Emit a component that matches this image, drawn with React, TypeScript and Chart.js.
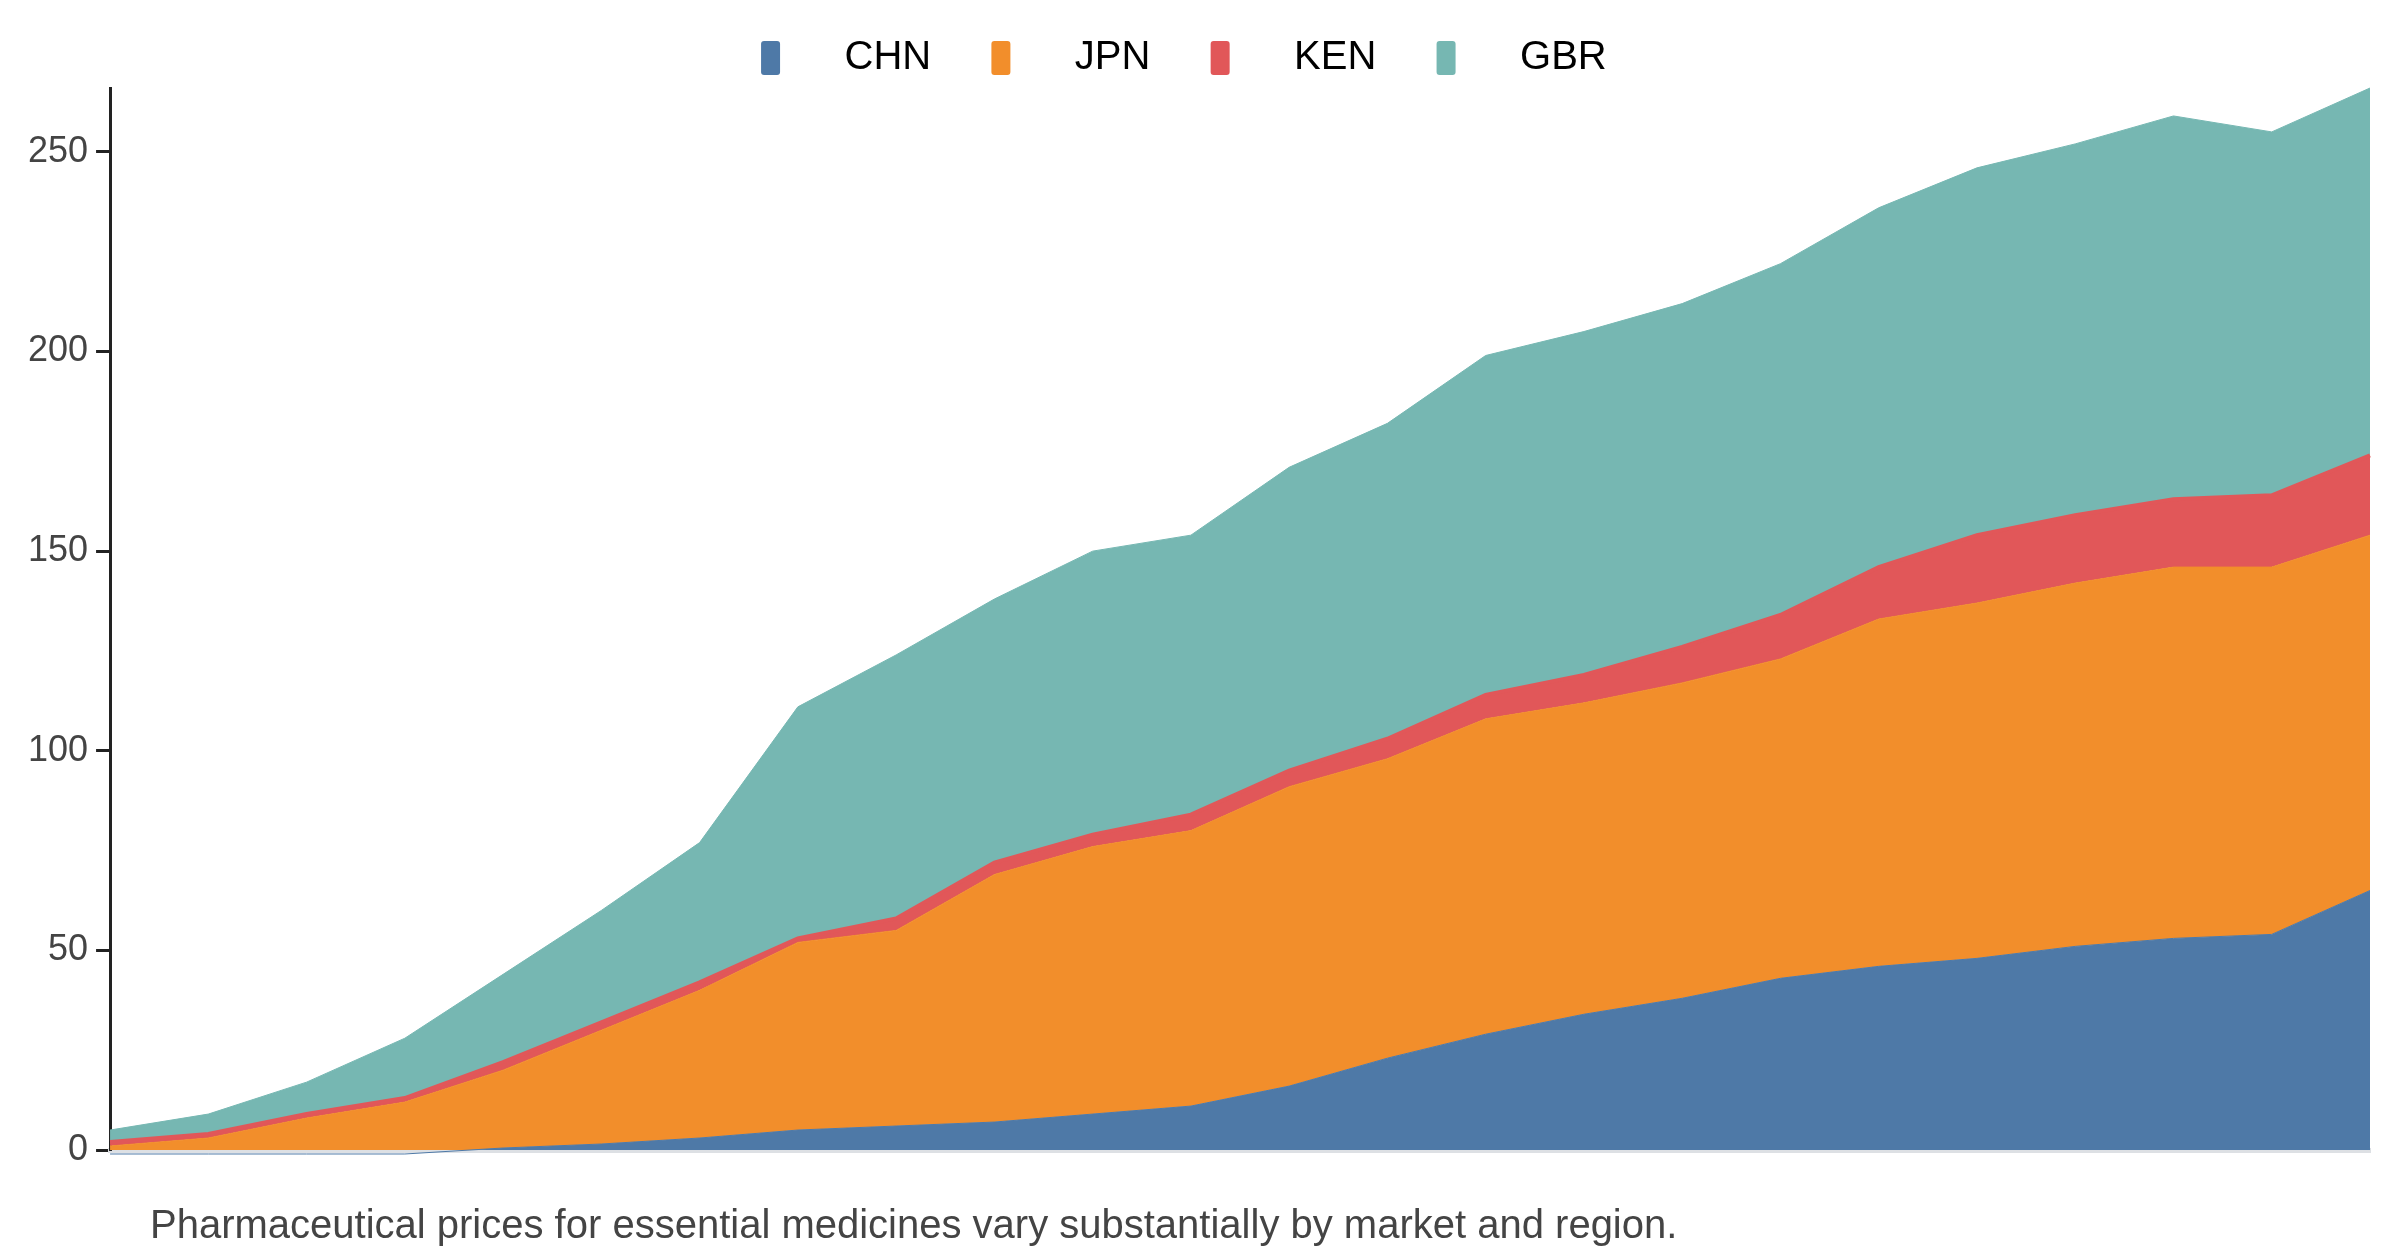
import React, { useEffect, useRef } from "react";
import { Chart, registerables } from "chart.js";
Chart.register(...registerables);

const categories = Array.from({ length: 24 }, (_, i) => String(2000 + i));
const CHN = [-1, -1, -1, -1, 0.5, 1.5, 3, 5, 6, 7, 9, 11, 16, 23, 29, 34, 38, 43, 46, 48, 51, 53, 54, 65];
const JPN = [1, 3, 8, 12, 19.5, 28.5, 37, 47, 49, 62, 67, 69, 75, 75, 79, 78, 79, 80, 87, 89, 91, 93, 92, 89];
const KEN = [1, 1, 1, 1, 2, 2, 2, 1, 3, 3, 3, 4, 4, 5, 6, 7, 9, 11, 13, 17, 17, 17, 18, 20];
const GBR = [3, 5, 8, 15, 22, 28, 35, 58, 66, 66, 71, 70, 76, 79, 85, 86, 86, 88, 90, 92, 93, 96, 91, 92];
const yTicks = [0, 50, 100, 150, 200, 250];

export default function App() {
  const ref = useRef<HTMLCanvasElement>(null);
  useEffect(() => {
    document.body.style.margin = "0";
    const mk = (label: string, data: number[], color: string, i: number, bw: number) => ({
      label, data, backgroundColor: color, borderColor: color, borderWidth: bw,
      fill: i === 0 ? "origin" : "-1", pointRadius: 0, tension: 0, clip: false as any,
    });
    const chart = new Chart(ref.current!, {
      type: "line",
      data: {
        labels: categories,
        datasets: [
          mk("CHN", CHN, "#4e79a7", 0, 1),
          mk("JPN", JPN, "#f28e2b", 1, 1),
          mk("KEN", KEN, "#e15759", 2, 4),
          mk("GBR", GBR, "#76b7b2", 3, 1),
        ],
      },
      options: {
        animation: false,
        responsive: false,
        layout: { padding: { left: 20, right: 30, top: 0, bottom: 98 } },
        plugins: {
          legend: {
            labels: {
              boxWidth: 19, boxHeight: 34, padding: 38,
              font: { size: 40, family: "Liberation Sans, Arial, sans-serif" }, color: "#222",
              generateLabels: (c: any) => c.data.datasets.map((d: any, i: number) => ({
                text: "    " + d.label + "  ", fillStyle: d.backgroundColor, strokeStyle: d.backgroundColor,
                lineWidth: 0, datasetIndex: i, borderRadius: 3,
              })),
            },
          },
          tooltip: { enabled: false },
        },
        scales: {
          x: {
            stacked: true, offset: false,
            grid: { display: false },
            border: { color: "#dde0e4", width: 5 },
            ticks: { display: false },
          },
          y: {
            stacked: true, min: 0, max: 266,
            afterBuildTicks: (s: any) => { s.ticks = yTicks.map((v) => ({ value: v })); },
            grid: { drawOnChartArea: false, tickLength: 14, tickWidth: 3, color: "#222" },
            border: { color: "#222", width: 3 },
            ticks: { font: { size: 36, family: "Liberation Sans, Arial, sans-serif" }, color: "#444", padding: 8 },
          },
        },
      },
    });
    return () => chart.destroy();
  }, []);
  return (
    <div style={{ position: "relative", width: 2400, height: 1256 }}>
      <canvas ref={ref} width={2400} height={1256} style={{ width: 2400, height: 1256 }} />
      <div style={{ position: "absolute", left: 150, top: 1202, fontSize: 40, color: "#444",
        fontFamily: "Liberation Sans, Arial, sans-serif" }}>
        Pharmaceutical prices for essential medicines vary substantially by market and region.
      </div>
    </div>
  );
}
